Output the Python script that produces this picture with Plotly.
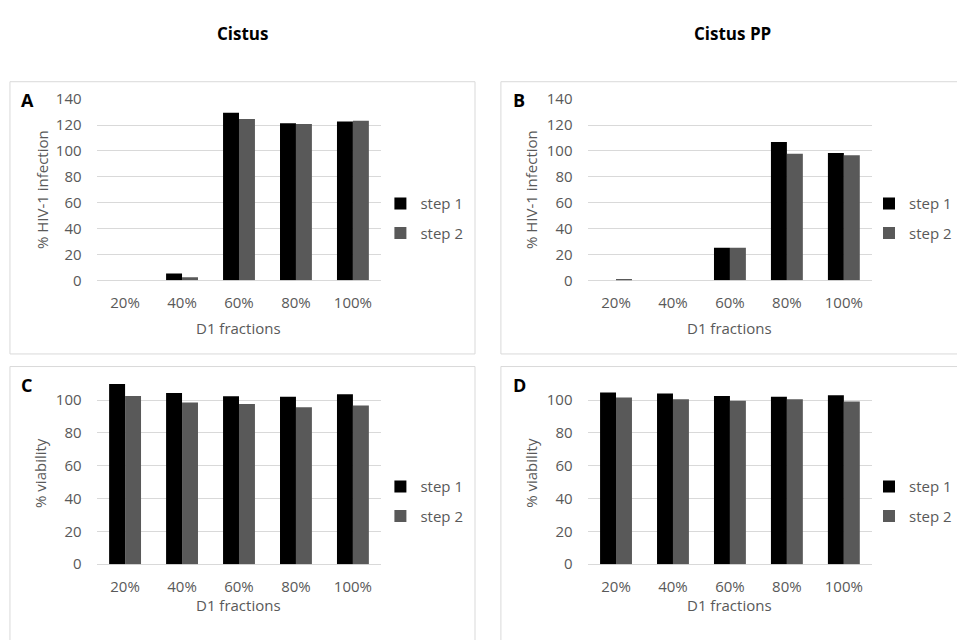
import plotly.graph_objects as go

# Fraction categories and per-panel measurements
fractions = ["20%", "40%", "60%", "80%", "100%"]

cistus_inf_step1 = [0, 5.2, 129.5, 121.3, 122.8]
cistus_inf_step2 = [0, 2.4, 124.6, 120.8, 123.3]

cistuspp_inf_step1 = [0, 0, 25.2, 106.8, 98.3]
cistuspp_inf_step2 = [1.0, 0, 25.2, 97.8, 96.6]

cistus_via_step1 = [109.9, 104.4, 102.4, 102.0, 103.6]
cistus_via_step2 = [102.6, 98.6, 97.7, 95.7, 96.7]

cistuspp_via_step1 = [104.7, 104.0, 102.6, 102.0, 103.0]
cistuspp_via_step2 = [101.6, 100.6, 99.6, 100.6, 99.2]

inf_ticks = [0, 20, 40, 60, 80, 100, 120, 140]
via_ticks = [0, 20, 40, 60, 80, 100]

W, H = 957, 640
FONT = "Open Sans"
GREY_TXT = "#595959"
GRID = "#d9d9d9"
C1, C2 = "#000000", "#595959"


def px(x):
    return x / W


def py(y):
    return 1 - y / H


fig = go.Figure()

panels = [
    # (xaxis id, yaxis id, legend id, step1, step2)
    ("x", "y", "legend", cistus_inf_step1, cistus_inf_step2),
    ("x2", "y2", "legend2", cistuspp_inf_step1, cistuspp_inf_step2),
    ("x3", "y3", "legend3", cistus_via_step1, cistus_via_step2),
    ("x4", "y4", "legend4", cistuspp_via_step1, cistuspp_via_step2),
]

for xa, ya, lg, s1, s2 in panels:
    fig.add_trace(go.Bar(x=fractions, y=s1, name="step 1", marker_color=C1,
                         marker_line_width=0, xaxis=xa, yaxis=ya, legend=lg,
                         legendgroup=lg + "a", hoverinfo="skip"))
    fig.add_trace(go.Bar(x=fractions, y=s2, name="step 2", marker_color=C2,
                         marker_line_width=0, xaxis=xa, yaxis=ya, legend=lg,
                         legendgroup=lg + "b", hoverinfo="skip"))

# Plot area geometry (pixels)
left_x = (97, 383)
right_x = (590, 876)
top_y = (91, 278)       # 0..140
bot_y = (376.3, 571)    # 0..115

xaxis_common = dict(type="category", showgrid=False, zeroline=False,
                    showline=False, ticks="", ticklabelstandoff=12,
                    tickfont=dict(family=FONT, size=15, color=GREY_TXT),
                    fixedrange=True)
yaxis_common = dict(showgrid=True, gridcolor=GRID, gridwidth=1,
                    zeroline=True, zerolinecolor=GRID, zerolinewidth=1,
                    showline=False, ticks="", ticklabelstandoff=14,
                    tickfont=dict(family=FONT, size=15, color=GREY_TXT),
                    fixedrange=True)

layout_axes = {}
specs = [
    ("xaxis", "yaxis", left_x, top_y, [0, 140], inf_ticks, "y", "x"),
    ("xaxis2", "yaxis2", right_x, top_y, [0, 140], inf_ticks, "y2", "x2"),
    ("xaxis3", "yaxis3", left_x, bot_y, [0, 115], via_ticks, "y3", "x3"),
    ("xaxis4", "yaxis4", right_x, bot_y, [0, 115], via_ticks, "y4", "x4"),
]
for xk, yk, (x0, x1), (y0, y1), yr, tv, anc_x, anc_y in specs:
    layout_axes[xk] = dict(xaxis_common, domain=[px(x0), px(x1)], anchor=anc_x)
    layout_axes[yk] = dict(yaxis_common, domain=[py(y1), py(y0)], anchor=anc_y,
                           range=yr, tickvals=tv)

legend_common = dict(font=dict(family=FONT, size=15, color=GREY_TXT),
                     bgcolor="rgba(0,0,0,0)", borderwidth=0,
                     xanchor="left", yanchor="middle", tracegroupgap=7,
                     itemclick=False, itemdoubleclick=False)

fig.update_layout(
    width=W, height=H,
    margin=dict(l=0, r=0, t=0, b=0),
    paper_bgcolor="white", plot_bgcolor="white",
    barmode="group", bargap=0.44, bargroupgap=0,
    showlegend=True,
    legend=dict(legend_common, x=px(382), y=py(214)),
    legend2=dict(legend_common, x=px(873), y=py(214)),
    legend3=dict(legend_common, x=px(382), y=py(506)),
    legend4=dict(legend_common, x=px(873), y=py(506)),
    **layout_axes,
)

# Panel frames
frames = [(10, 73, 477, 354), (503, 73, 980, 354),
          (10, 367, 477, 660), (503, 367, 980, 660)]
for x0, y0, x1, y1 in frames:
    fig.add_shape(type="rect", xref="paper", yref="paper",
                  x0=px(x0), x1=px(x1), y0=py(y1), y1=py(y0),
                  line=dict(color=GRID, width=1), fillcolor="rgba(0,0,0,0)",
                  layer="below")

annotations = []


def text(x, y, s, size=15, color=GREY_TXT, bold=False, angle=0, xanchor="center"):
    annotations.append(dict(
        x=px(x), y=py(y), xref="paper", yref="paper", text=s,
        showarrow=False, textangle=angle, xanchor=xanchor, yanchor="middle",
        font=dict(family=FONT, size=size, color=color,
                  weight="bold" if bold else "normal")))


# Column headings
text(244, 23, "Cistus", size=17, color="#000000", bold=True)
text(736, 23, "Cistus PP", size=17, color="#000000", bold=True)

# Panel letters
text(19, 92, "A", size=18, color="#000000", bold=True, xanchor="left")
text(513, 92, "B", size=18, color="#000000", bold=True, xanchor="left")
text(19, 386, "C", size=18, color="#000000", bold=True, xanchor="left")
text(513, 386, "D", size=18, color="#000000", bold=True, xanchor="left")

# Axis titles
text(42, 184, "% HIV-1 infection", angle=-90)
text(533, 184, "% HIV-1 infection", angle=-90)
text(40, 477, "% viability", angle=-90)
text(533, 477, "% viability", angle=-90)
text(240, 327, "D1 fractions")
text(733, 327, "D1 fractions")
text(240, 613, "D1 fractions")
text(733, 613, "D1 fractions")

fig.update_layout(annotations=annotations)

fig.write_html("out.html")
